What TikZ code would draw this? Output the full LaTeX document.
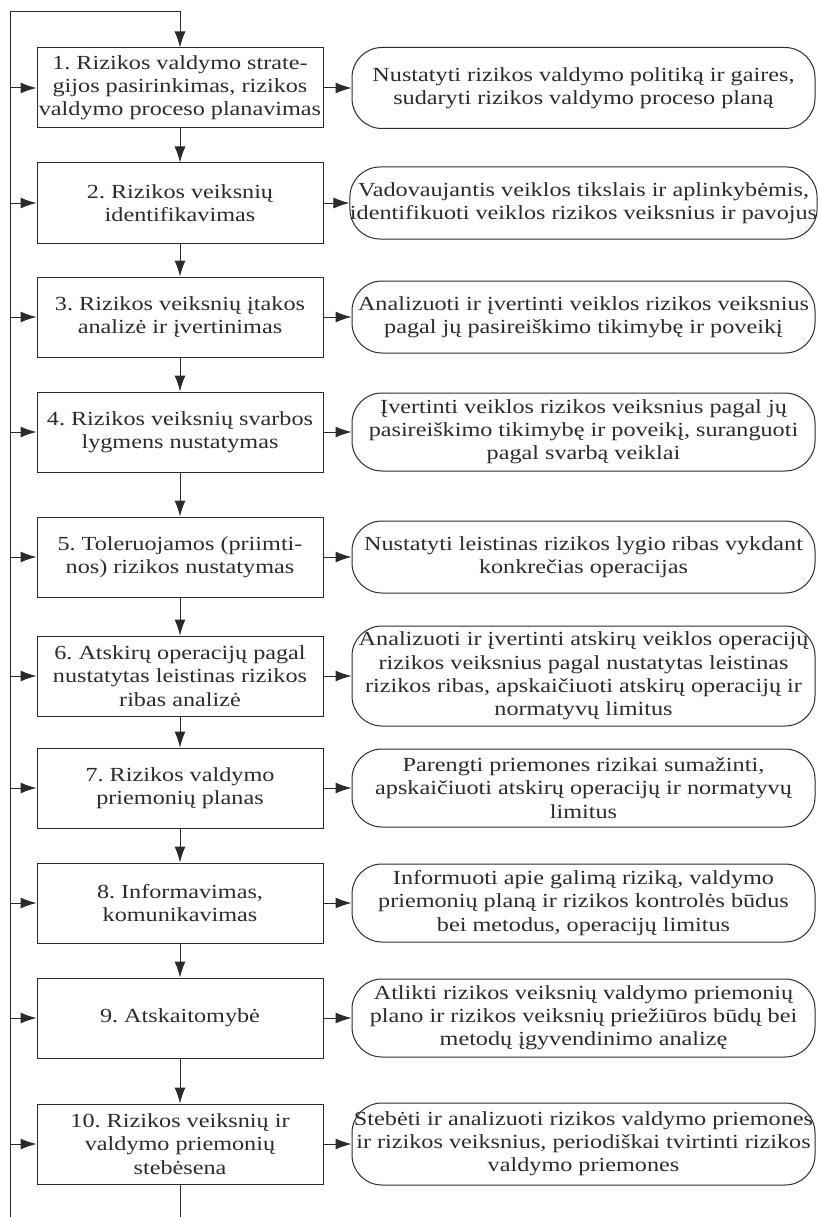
\documentclass[tikz,border=0pt]{standalone}
\usepackage{fontspec}
\setmainfont{Liberation Serif}[FakeStretch=1.21]
\usetikzlibrary{arrows.meta}
\definecolor{ink}{HTML}{2B2B2B}
\tikzset{
  arr/.style={-{Latex[length=16pt,width=11pt]}, line width=1pt, draw=ink},
  stepbox/.style={draw=ink, line width=1pt, minimum width=286pt, minimum height=80pt,
    align=center, inner sep=0pt, font=\fontsize{20}{23.2}\selectfont, text=ink},
  notebox/.style={draw=ink, line width=1pt, rounded corners=30pt, minimum width=463pt,
    align=center, inner sep=0pt, font=\fontsize{20}{23.2}\selectfont, text=ink},
}
\frenchspacing
\begin{document}
\begin{tikzpicture}[x=1pt,y=-1pt]
\useasboundingbox (0,0) rectangle (818,1217);

% process steps
\node[stepbox] (b1) at (180,88) {1. Rizikos valdymo strate-\\gijos pasirinkimas, rizikos\\valdymo proceso planavimas};
\node[stepbox] (b2) at (180,203) {2. Rizikos veiksnių\\identifikavimas};
\node[stepbox] (b3) at (180,317) {3. Rizikos veiksnių įtakos\\analizė ir įvertinimas};
\node[stepbox] (b4) at (180,432) {4. Rizikos veiksnių svarbos\\lygmens nustatymas};
\node[stepbox] (b5) at (180,557) {5. Toleruojamos (priimti-\\nos) rizikos nustatymas};
\node[stepbox] (b6) at (180,676) {6. Atskirų operacijų pagal\\nustatytas leistinas rizikos\\ribas analizė};
\node[stepbox] (b7) at (180,788) {7. Rizikos valdymo\\priemonių planas};
\node[stepbox] (b8) at (180,903) {8. Informavimas,\\komunikavimas};
\node[stepbox] (b9) at (180,1018) {9. Atskaitomybė};
\node[stepbox] (b10) at (180,1144) {10. Rizikos veiksnių ir\\valdymo priemonių\\stebėsena};

% descriptions
\node[notebox, minimum height=81pt] (r1) at (583.5,88) {Nustatyti rizikos valdymo politiką ir gaires,\\sudaryti rizikos valdymo proceso planą};
\node[notebox, minimum height=72pt] (r2) at (583.5,203) {Vadovaujantis veiklos tikslais ir aplinkybėmis,\\identifikuoti veiklos rizikos veiksnius ir pavojus};
\node[notebox, minimum height=72pt] (r3) at (583.5,317) {Analizuoti ir įvertinti veiklos rizikos veiksnius\\pagal jų pasireiškimo tikimybę ir poveikį};
\node[notebox, minimum height=78pt] (r4) at (583.5,432) {Įvertinti veiklos rizikos veiksnius pagal jų\\pasireiškimo tikimybę ir poveikį, suranguoti\\pagal svarbą veiklai};
\node[notebox, minimum height=72pt] (r5) at (583.5,557) {Nustatyti leistinas rizikos lygio ribas vykdant\\konkrečias operacijas};
\node[notebox, minimum height=100pt] (r6) at (583.5,676) {Analizuoti ir įvertinti atskirų veiklos operacijų\\rizikos veiksnius pagal nustatytas leistinas\\rizikos ribas, apskaičiuoti atskirų operacijų ir\\normatyvų limitus};
\node[notebox, minimum height=78pt] (r7) at (583.5,788) {Parengti priemones rizikai sumažinti,\\apskaičiuoti atskirų operacijų ir normatyvų\\limitus};
\node[notebox, minimum height=78pt] (r8) at (583.5,903) {Informuoti apie galimą riziką, valdymo\\priemonių planą ir rizikos kontrolės būdus\\bei metodus, operacijų limitus};
\node[notebox, minimum height=78pt] (r9) at (583.5,1018) {Atlikti rizikos veiksnių valdymo priemonių\\plano ir rizikos veiksnių priežiūros būdų bei\\metodų įgyvendinimo analizę};
\node[notebox, minimum height=82pt] (r10) at (583.5,1144) {Stebėti ir analizuoti rizikos valdymo priemones\\ir rizikos veiksnius, periodiškai tvirtinti rizikos\\valdymo priemones};

% feedback loop
\coordinate (lb) at (10,1217);
\coordinate (lt) at (10,12);
\coordinate (out) at (180,1217);
\draw[arr] (lb) -- (lt) -| (b1.north);
\draw[line width=1pt, draw=ink] (b10.south) -- (out);

\foreach \i in {1,...,10}{
  \draw[arr] (b\i.west -| lb) -- (b\i.west);
  \draw[arr] (b\i.east) -- (r\i.west);
}
\foreach \i [evaluate=\i as \j using int(\i+1)] in {1,...,9}{
  \draw[arr] (b\i.south) -- (b\j.north);
}
\end{tikzpicture}
\end{document}
